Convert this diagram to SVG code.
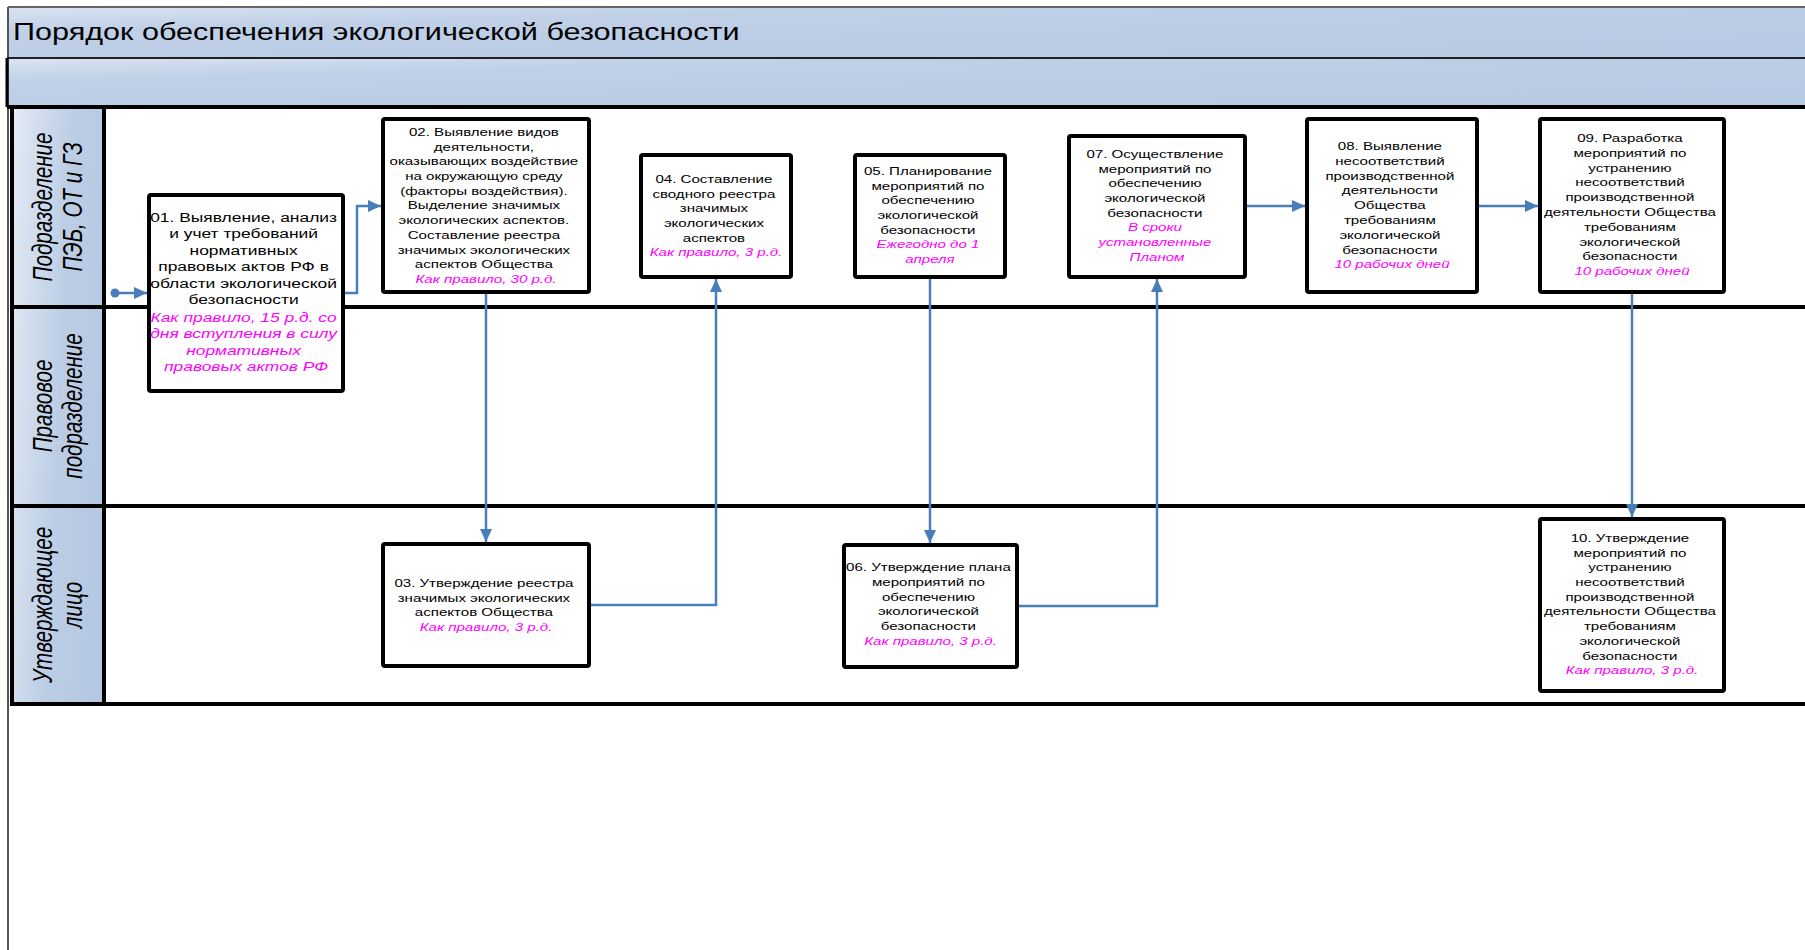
<svg xmlns="http://www.w3.org/2000/svg" width="1805" height="950" viewBox="0 0 1805 950">
<defs>
<linearGradient id="bandG" x1="0" y1="0" x2="1" y2="1" gradientUnits="objectBoundingBox">
<stop offset="0" stop-color="#dbe4f1"/><stop offset="0.25" stop-color="#bfd0e7"/><stop offset="1" stop-color="#b6c9e2"/>
</linearGradient>
<linearGradient id="hdrG" x1="0" y1="0" x2="1" y2="0.3">
<stop offset="0" stop-color="#e4ebf5"/><stop offset="0.6" stop-color="#bccee5"/><stop offset="1" stop-color="#b6c9e2"/>
</linearGradient>
<marker id="arr" viewBox="0 0 13 12" refX="13" refY="6" markerWidth="13" markerHeight="12" markerUnits="userSpaceOnUse" orient="auto">
<path d="M0,0 L13,6 L0,12 z" fill="#4a7ebb"/>
</marker>
<style>
.box{fill:#fff;stroke:#000;stroke-width:4}
.lane{stroke:#000;stroke-width:4;fill:none}
.con{fill:none;stroke:#4a7ebb;stroke-width:2.5}
.t{font-family:"Liberation Sans",Arial,sans-serif;font-size:11.6px;fill:#000;text-anchor:middle}
.t1{font-size:13.5px}
.m{fill:#ff00ff;font-style:italic}
.lbl{font-family:"Liberation Sans",Arial,sans-serif;font-size:20.6px;font-style:italic;fill:#000;text-anchor:middle}
.title{font-family:"Liberation Sans",Arial,sans-serif;font-size:23px;fill:#000}
</style>
</defs>
<rect width="1805" height="950" fill="#fff"/>
<g id="frame">
<rect x="8" y="7" width="1800" height="51" fill="url(#bandG)"/>
<rect x="7" y="58" width="1800" height="49" fill="url(#bandG)"/>
<line x1="8" y1="7" x2="1805" y2="7" stroke="#666" stroke-width="2"/>
<line x1="8" y1="7" x2="8" y2="950" stroke="#555" stroke-width="2"/>
<line x1="7" y1="58" x2="1805" y2="58" stroke="#222" stroke-width="2"/>
<line x1="7" y1="58" x2="7" y2="107" stroke="#000" stroke-width="3"/>
<text class="title" transform="matrix(1.33 0 0 1 13 0)" x="0" y="40">Порядок обеспечения экологической безопасности</text>
</g>
<g id="lanes">
<rect x="12" y="107" width="92" height="597" fill="url(#hdrG)"/>
<line class="lane" x1="7" y1="107" x2="1805" y2="107"/>
<line class="lane" x1="12" y1="307" x2="1805" y2="307"/>
<line class="lane" x1="12" y1="506" x2="1805" y2="506"/>
<line class="lane" x1="12" y1="704" x2="1805" y2="704"/>
<line class="lane" x1="12" y1="105" x2="12" y2="706"/>
<line class="lane" x1="104" y1="107" x2="104" y2="704"/>
<text class="lbl" transform="translate(58,207) scale(1.3,1) rotate(-90)"><tspan x="0" y="-4.6">Подразделение</tspan><tspan x="0" y="18.5">ПЭБ, ОТ и ГЗ</tspan></text>
<text class="lbl" transform="translate(58,406) scale(1.3,1) rotate(-90)"><tspan x="0" y="-4.6">Правовое</tspan><tspan x="0" y="18.5">подразделение</tspan></text>
<text class="lbl" transform="translate(58,605) scale(1.3,1) rotate(-90)"><tspan x="0" y="-4.6">Утверждающее</tspan><tspan x="0" y="18.5">лицо</tspan></text>
</g>
<g id="connectors">
<circle cx="115" cy="293" r="4.5" fill="#4a7ebb"/>
<path class="con" d="M115,293 H147" marker-end="url(#arr)"/>
<path class="con" d="M345,293 H357 V206 H381" marker-end="url(#arr)"/>
<path class="con" d="M486,294 V542" marker-end="url(#arr)"/>
<path class="con" d="M591,605 H716 V279" marker-end="url(#arr)"/>
<path class="con" d="M930,279 V543" marker-end="url(#arr)"/>
<path class="con" d="M1019,606 H1157 V279" marker-end="url(#arr)"/>
<path class="con" d="M1247,206 H1305" marker-end="url(#arr)"/>
<path class="con" d="M1479,206 H1538" marker-end="url(#arr)"/>
<path class="con" d="M1632,294 V517" marker-end="url(#arr)"/>
</g>
<g id="n01">
<rect class="box" x="149" y="195" width="194" height="196" rx="2"/>
<text class="t t1" transform="matrix(1.29 0 0 1 246 0)">
<tspan x="0" y="222">01. Выявление, анализ</tspan>
<tspan x="0" y="238.5">и учет требований</tspan>
<tspan x="0" y="255">нормативных</tspan>
<tspan x="0" y="271.5">правовых актов РФ в</tspan>
<tspan x="0" y="288">области экологической</tspan>
<tspan x="0" y="304.5">безопасности</tspan>
<tspan class="m" x="0" y="322">Как правило, 15 р.д. со</tspan>
<tspan class="m" x="0" y="338.5">дня вступления в силу</tspan>
<tspan class="m" x="0" y="355">нормативных</tspan>
<tspan class="m" x="0" y="371.5">правовых актов РФ</tspan>
</text>
</g>
<g id="n02">
<rect class="box" x="383" y="119" width="206" height="173" rx="2"/>
<text class="t" transform="matrix(1.3 0 0 1 486 0)">
<tspan x="0" y="136">02. Выявление видов</tspan>
<tspan x="0" y="150.7">деятельности,</tspan>
<tspan x="0" y="165.4">оказывающих воздействие</tspan>
<tspan x="0" y="180.1">на окружающую среду</tspan>
<tspan x="0" y="194.8">(факторы воздействия).</tspan>
<tspan x="0" y="209.5">Выделение значимых</tspan>
<tspan x="0" y="224.2">экологических аспектов.</tspan>
<tspan x="0" y="238.9">Составление реестра</tspan>
<tspan x="0" y="253.6">значимых экологических</tspan>
<tspan x="0" y="268.3">аспектов Общества</tspan>
<tspan class="m" x="0" y="283">Как правило, 30 р.д.</tspan>
</text>
</g>
<g id="n03">
<rect class="box" x="383" y="544" width="206" height="122" rx="2"/>
<text class="t" transform="matrix(1.3 0 0 1 486 0)">
<tspan x="0" y="587">03. Утверждение реестра</tspan>
<tspan x="0" y="601.7">значимых экологических</tspan>
<tspan x="0" y="616.4">аспектов Общества</tspan>
<tspan class="m" x="0" y="631.1">Как правило, 3 р.д.</tspan>
</text>
</g>
<g id="n04">
<rect class="box" x="641" y="155" width="150" height="122" rx="2"/>
<text class="t" transform="matrix(1.3 0 0 1 716 0)">
<tspan x="0" y="183">04. Составление</tspan>
<tspan x="0" y="197.7">сводного реестра</tspan>
<tspan x="0" y="212.4">значимых</tspan>
<tspan x="0" y="227.1">экологических</tspan>
<tspan x="0" y="241.8">аспектов</tspan>
<tspan class="m" x="0" y="256.5">Как правило, 3 р.д.</tspan>
</text>
</g>
<g id="n05">
<rect class="box" x="855" y="155" width="150" height="122" rx="2"/>
<text class="t" transform="matrix(1.3 0 0 1 930 0)">
<tspan x="0" y="175">05. Планирование</tspan>
<tspan x="0" y="189.7">мероприятий по</tspan>
<tspan x="0" y="204.4">обеспечению</tspan>
<tspan x="0" y="219.1">экологической</tspan>
<tspan x="0" y="233.8">безопасности</tspan>
<tspan class="m" x="0" y="248.5">Ежегодно до 1</tspan>
<tspan class="m" x="0" y="263.2">апреля</tspan>
</text>
</g>
<g id="n06">
<rect class="box" x="844" y="545" width="173" height="122" rx="2"/>
<text class="t" transform="matrix(1.3 0 0 1 930.5 0)">
<tspan x="0" y="571">06. Утверждение плана</tspan>
<tspan x="0" y="585.8">мероприятий по</tspan>
<tspan x="0" y="600.6">обеспечению</tspan>
<tspan x="0" y="615.4">экологической</tspan>
<tspan x="0" y="630.2">безопасности</tspan>
<tspan class="m" x="0" y="645">Как правило, 3 р.д.</tspan>
</text>
</g>
<g id="n07">
<rect class="box" x="1069" y="136" width="176" height="141" rx="2"/>
<text class="t" transform="matrix(1.3 0 0 1 1157 0)">
<tspan x="0" y="158">07. Осуществление</tspan>
<tspan x="0" y="172.7">мероприятий по</tspan>
<tspan x="0" y="187.4">обеспечению</tspan>
<tspan x="0" y="202.1">экологической</tspan>
<tspan x="0" y="216.8">безопасности</tspan>
<tspan class="m" x="0" y="231.5">В сроки</tspan>
<tspan class="m" x="0" y="246.2">установленные</tspan>
<tspan class="m" x="0" y="260.9">Планом</tspan>
</text>
</g>
<g id="n08">
<rect class="box" x="1307" y="119" width="170" height="173" rx="2"/>
<text class="t" transform="matrix(1.3 0 0 1 1392 0)">
<tspan x="0" y="150">08. Выявление</tspan>
<tspan x="0" y="164.8">несоответствий</tspan>
<tspan x="0" y="179.6">производственной</tspan>
<tspan x="0" y="194.4">деятельности</tspan>
<tspan x="0" y="209.2">Общества</tspan>
<tspan x="0" y="224">требованиям</tspan>
<tspan x="0" y="238.8">экологической</tspan>
<tspan x="0" y="253.6">безопасности</tspan>
<tspan class="m" x="0" y="268.4">10 рабочих дней</tspan>
</text>
</g>
<g id="n09">
<rect class="box" x="1540" y="119" width="184" height="173" rx="2"/>
<text class="t" transform="matrix(1.3 0 0 1 1632 0)">
<tspan x="0" y="142">09. Разработка</tspan>
<tspan x="0" y="156.8">мероприятий по</tspan>
<tspan x="0" y="171.6">устранению</tspan>
<tspan x="0" y="186.4">несоответствий</tspan>
<tspan x="0" y="201.2">производственной</tspan>
<tspan x="0" y="216">деятельности Общества</tspan>
<tspan x="0" y="230.8">требованиям</tspan>
<tspan x="0" y="245.6">экологической</tspan>
<tspan x="0" y="260.4">безопасности</tspan>
<tspan class="m" x="0" y="275.2">10 рабочих дней</tspan>
</text>
</g>
<g id="n10">
<rect class="box" x="1540" y="519" width="184" height="172" rx="2"/>
<text class="t" transform="matrix(1.3 0 0 1 1632 0)">
<tspan x="0" y="542">10. Утверждение</tspan>
<tspan x="0" y="556.7">мероприятий по</tspan>
<tspan x="0" y="571.4">устранению</tspan>
<tspan x="0" y="586.1">несоответствий</tspan>
<tspan x="0" y="600.8">производственной</tspan>
<tspan x="0" y="615.5">деятельности Общества</tspan>
<tspan x="0" y="630.2">требованиям</tspan>
<tspan x="0" y="644.9">экологической</tspan>
<tspan x="0" y="659.6">безопасности</tspan>
<tspan class="m" x="0" y="674.3">Как правило, 3 р.д.</tspan>
</text>
</g>
</svg>
